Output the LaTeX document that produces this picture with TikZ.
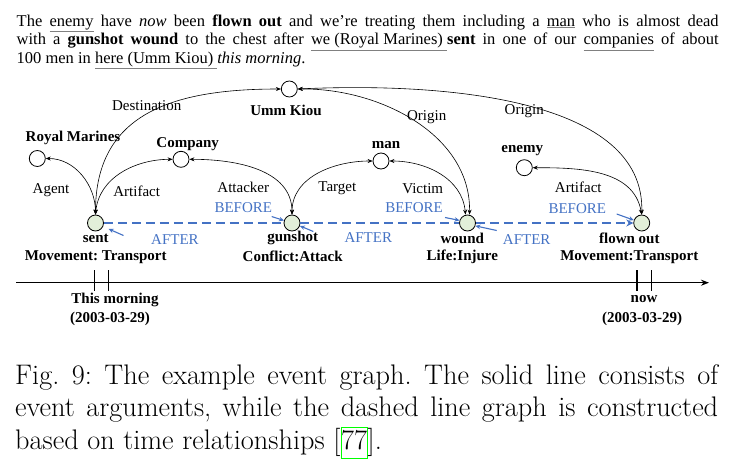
\documentclass[tikz,border=0pt]{standalone}
\usepackage{fontspec}
\newfontfamily\tnr{Liberation Serif}
\usetikzlibrary{arrows.meta}
\definecolor{evblue}{HTML}{4472C4}
\definecolor{evfill}{HTML}{E2EFD9}
\definecolor{ulgray}{HTML}{808080}
\definecolor{linkgreen}{HTML}{00FF00}
\makeatletter
\newcommand\ulg[1]{{\color{ulgray}$\@@underline{\hbox{\color{black}#1}}$}}
\makeatother
\frenchspacing
\begin{document}
\begin{tikzpicture}[x=1pt,y=-1pt,
  lab/.style={font=\tnr\fontsize{15}{18}\selectfont, inner sep=0pt},
  blab/.style={lab, font=\tnr\bfseries\fontsize{15}{18}\selectfont},
  tlab/.style={lab, text=evblue},
  arg/.style={circle, draw, fill=white, minimum size=16pt, inner sep=0pt, line width=0.8pt},
  ev/.style={circle, draw, fill=evfill, minimum size=16pt, inner sep=0pt, line width=0.8pt},
  rel/.style={line width=0.6pt, {Stealth[length=5pt,width=4pt]}-{Stealth[length=5pt,width=4pt]}},
  tdash/.style={draw=evblue, line width=1.7pt, dash pattern=on 9pt off 5pt},
  tdashend/.style={tdash, -{Stealth[length=7pt,width=7pt]}},
  note/.style={draw=evblue, line width=1.1pt, -{Stealth[length=5pt,width=4.5pt]}},
  axis/.style={line width=1.5pt, -{Stealth[length=8pt,width=6pt]}},
  tick/.style={line width=1.5pt},
  para/.style={font=\tnr\fontsize{16.5}{19}\selectfont, inner sep=0pt, anchor=base west},
  capt/.style={font=\fontsize{28.3}{32.5}\selectfont, inner sep=0pt, anchor=base west},
  linkbox/.style={capt, draw=linkgreen, line width=1pt, inner xsep=0pt, text height=22pt, text depth=9pt}]
\useasboundingbox (0,0) rectangle (738,471);

% top paragraph
\node[para] (p1) at (16.5,26) {\makebox[702pt][s]{The \ulg{enemy} have \textit{now} been \textbf{flown out} and we’re treating them including a \ulg{man} who is almost dead}};
\node[para] (p2) at (16.5,44.8) {\makebox[702pt][s]{with a \textbf{gunshot wound} to the chest after \ulg{we (Royal Marines) }\textbf{sent} in one of our \ulg{companies} of about}};
\node[para] (p3) at (16.5,63.5) {100 men in \ulg{here (Umm Kiou) }\textit{this morning}.};

% nodes
\node[ev] (sent) at (95.5,223) {};
\node[ev] (gun) at (292,223) {};
\node[ev] (wound) at (467.5,223) {};
\node[ev] (flown) at (641.7,223) {};
\node[arg] (rm) at (37.3,158.5) {};
\node[arg] (comp) at (181,159.3) {};
\node[arg] (umm) at (289.3,89) {};
\node[arg] (man) at (381,161) {};
\node[arg] (enemy) at (524.3,167.7) {};

% node labels
\node[blab] (rmL) at (73,138.3) {Royal Marines};
\node[blab] (compL) at (187.7,144.3) {Company};
\node[blab] (ummL) at (286,110) {Umm Kiou};
\node[blab] (manL) at (386,145) {man};
\node[blab] (enemyL) at (522.3,151) {enemy};
\node[blab] (sentL) at (95.7,238.3) {sent};
\node[blab] (sentT) at (95.7,257.3) {Movement: Transport};
\node[blab] (gunL) at (292.7,238) {gunshot};
\node[blab] (gunT) at (292.7,256.7) {Conflict:Attack};
\node[blab] (woundL) at (462.3,238.3) {wound};
\node[blab] (woundT) at (462.3,257.3) {Life:Injure};
\node[blab] (flownL) at (629.3,238) {flown out};
\node[blab] (flownT) at (629.3,256.7) {Movement:Transport};

% argument edges
\draw[rel] (sent.north) to[out=90,in=0] (rm.east);
\draw[rel] (sent.north) to[out=85,in=180] (comp.west);
\draw[rel] (sent.north) .. controls (95.5,115) and (170,89) .. (umm.west);
\draw[rel] (gun.north) to[out=90,in=0] (comp.east);
\draw[rel] (gun.north) to[out=90,in=180] (man.west);
\draw[rel] ([xshift=-2pt]wound.north) to[out=95,in=0] (man.east);
\draw[rel] (umm.east) .. controls (380,88) and (471,135) .. ([xshift=2pt]wound.north);
\draw[rel] (umm.east) .. controls (450,82) and (645,100) .. (flown.north);
\draw[rel] (flown.north) to[out=100,in=0] (enemy.east);

% edge labels
\node[lab] (lDest) at (146.7,105.7) {Destination};
\node[lab] (lAgent) at (51,190) {Agent};
\node[lab] (lArt1) at (136.7,191) {Artifact};
\node[lab] (lAtt) at (243.3,187.3) {Attacker};
\node[lab] (lTarget) at (337.3,188.3) {Target};
\node[lab] (lOrig1) at (426.7,117.3) {Origin};
\node[lab] (lOrig2) at (524.3,110.7) {Origin};
\node[lab] (lVictim) at (422.7,189) {Victim};
\node[lab] (lArt2) at (578.3,187.7) {Artifact};

% temporal edges
\draw[tdash] (sent.east) -- (gun.west);
\draw[tdash] (gun.east) -- (wound.west);
\draw[tdashend] (wound.east) -- (flown.west);

\node[tlab] (tB1) at (243.3,207.7) {BEFORE};
\node[tlab] (tA1) at (175,240) {AFTER};
\node[tlab] (tB2) at (414,207.7) {BEFORE};
\node[tlab] (tA2) at (368.3,237.5) {AFTER};
\node[tlab] (tB3) at (577.3,208.3) {BEFORE};
\node[tlab] (tA3) at (526.7,239.3) {AFTER};

\coordinate (cB1) at (271.7,216.5);
\coordinate (cA1) at (123.5,235.5);
\coordinate (cA2) at (313.3,231.5);
\coordinate (cB2) at (445,217.5);
\coordinate (cA3) at (496.7,230.5);
\coordinate (cB3) at (616.7,214);
\draw[note] (cB1) -- (gun.163);
\draw[note, shorten >=6pt] (cA1) -- (sent.-25);
\draw[note] (cA2) -- (gun.-20);
\draw[note] (cB2) -- (wound.162);
\draw[note] (cA3) -- (wound.-20);
\draw[note] (cB3) -- (flown.160);

% time axis
\coordinate (ax0) at (16,282.7);
\coordinate (ax1) at (709,282.7);
\draw[axis] (ax0) -- (ax1);
\foreach \x/\n in {94.3/t1,108.3/t2,637/t3,651.3/t4}{
  \coordinate (\n a) at (\x,270);
  \coordinate (\n b) at (\x,290.5);
  \draw[tick] (\n a) -- (\n b);
}
\node[blab] (tm1) at (115,300) {This morning};
\node[blab] (tm2) at (110,318.5) {(2003-03-29)};
\node[blab] (tn1) at (644,299.5) {now};
\node[blab] (tn2) at (642,318.5) {(2003-03-29)};

% caption
\node[capt] (c1) at (15,384) {\makebox[703pt][s]{Fig. 9: The example event graph. The solid line consists of}};
\node[capt] (c2) at (15,416.5) {\makebox[703pt][s]{event arguments, while the dashed line graph is constructed}};
\node[capt] (c3) at (15,449) {based on time relationships [};
\node[linkbox, anchor=base west] (ref) at (c3.base east) {77};
\node[capt] (c3b) at (ref.base east) {].};
\end{tikzpicture}
\end{document}
